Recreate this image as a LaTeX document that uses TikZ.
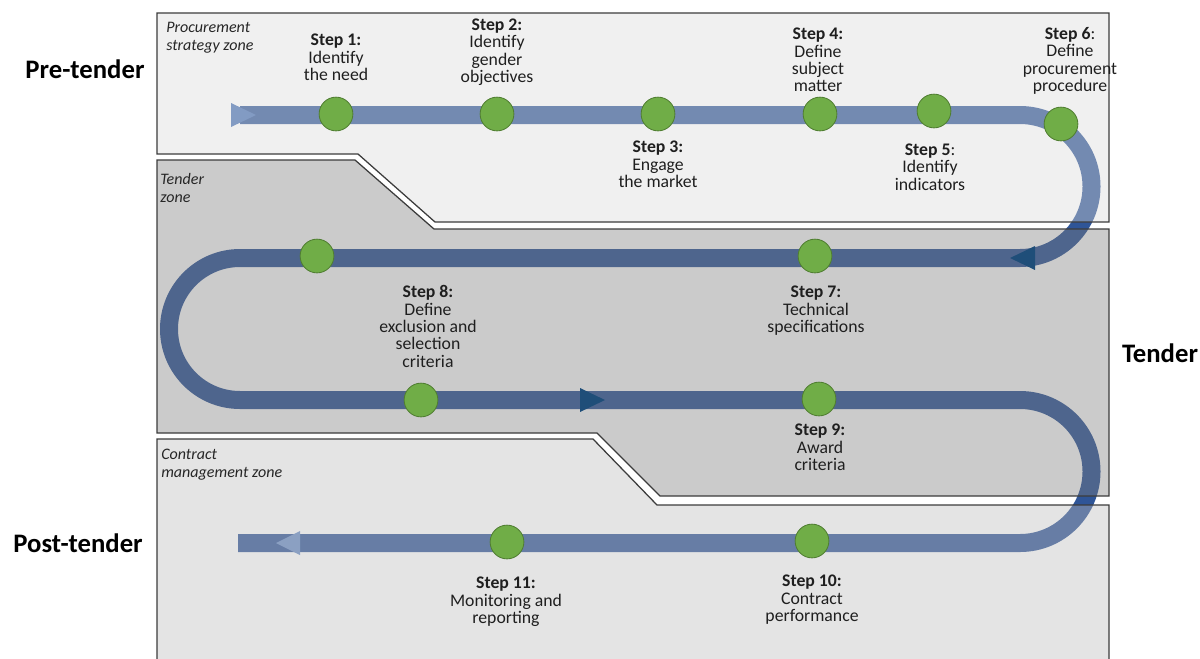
\documentclass[tikz,border=0pt]{standalone}
\usepackage{fontspec}
\setmainfont{Carlito}
\usetikzlibrary{arrows.meta}
\usepackage{xcolor}

\definecolor{trackblue}{RGB}{47,85,151}
\definecolor{headlight}{RGB}{72,113,180}
\definecolor{headpale}{RGB}{108,142,200}
\definecolor{headdark}{RGB}{31,78,121}
\definecolor{dotgreen}{RGB}{112,173,71}
\definecolor{dotrim}{RGB}{80,126,50}
\definecolor{zoneline}{RGB}{60,60,60}

\begin{document}
\begin{tikzpicture}[x=0.025cm,y=-0.025cm,line join=miter,
  zone/.style={draw=zoneline,line width=0.9pt,fill opacity=0.4,draw opacity=1},
  track/.style={draw=trackblue,line width=12.8pt},
  stepdot/.style={circle,fill=dotgreen,draw=dotrim,line width=0.6pt,minimum size=24pt,inner sep=0pt},
  steplabel/.style={align=center,font=\fontsize{12.6}{12.4}\selectfont,text=black!88},
  zonelabel/.style={align=left,anchor=north west,inner sep=0pt,font=\fontsize{11.4}{12.8}\selectfont\itshape,text=black!85},
  phase/.style={font=\fontsize{19}{22}\selectfont\bfseries}]
\useasboundingbox (0,0) rectangle (1200,658);
\begin{scope}
\clip (0,0) rectangle (1200,658);
% the path through the three zones
\coordinate (tstart) at (240,115);
\coordinate (turnA) at (1020,115);
\coordinate (turnB) at (240,258);
\coordinate (turnC) at (1020,400);
\coordinate (tend) at (238,543);
\draw[track] (tstart) -- (turnA) arc(-90:90:71.5) -- (turnB) arc(270:90:71)
  -- (turnC) arc(-90:90:71.5) -- (tend);
\fill[headlight] (231,103) -- (256,115) -- (231,127) -- cycle;
\fill[headpale] (300,531) -- (276,543) -- (300,555) -- cycle;
% zones
\draw[zone,fill={rgb,255:red,218;green,218;blue,218}] (157,13) -- (1109,13) -- (1109,222) -- (435,222) -- (358,154) -- (157,154) -- cycle;
\draw[zone,fill={rgb,255:red,126;green,126;blue,126}] (157,160) -- (355,160) -- (434,229) -- (1109,229) -- (1109,496) -- (660,496) -- (597,433) -- (157,433) -- cycle;
\draw[zone,fill={rgb,255:red,187;green,187;blue,187}] (157,439) -- (593,439) -- (657,505) -- (1109,505) -- (1109,680) -- (157,680) -- cycle;
\end{scope}
\fill[headdark] (1035,246) -- (1010,258) -- (1035,270) -- cycle;
\fill[headdark] (580,388) -- (605,400) -- (580,412) -- cycle;
% zone names
\node[zonelabel] (zpre) at (166,22) {Procurement\\strategy zone};
\node[zonelabel] (ztender) at (160,173) {Tender\\zone};
\node[zonelabel] (zpost) at (161,449) {Contract\\management zone};
\node[phase] (pre) at (85,69) {Pre-tender};
\node[phase] (ten) at (1160,353) {Tender};
\node[phase] (post) at (78,543) {Post-tender};
% steps
\node[stepdot] (d1) at (336,114) {};
\node[stepdot] (d2) at (497,114) {};
\node[stepdot] (d3) at (658,114) {};
\node[stepdot] (d4) at (820,114) {};
\node[stepdot] (d5) at (934,111) {};
\node[stepdot] (d6) at (1061,124) {};
\node[stepdot] (d7) at (815,256) {};
\node[stepdot] (d8a) at (317,256) {};
\node[stepdot] (d8) at (421,400) {};
\node[stepdot] (d9) at (819,399) {};
\node[stepdot] (d10) at (812,541) {};
\node[stepdot] (d11) at (507,542) {};
\node[steplabel] (l1) at (336,57.5) {\textbf{Step 1:}\\Identify\\the need};
\node[steplabel] (l2) at (497,52) {\textbf{Step 2:}\\Identify\\gender\\objectives};
\node[steplabel] (l3) at (658,164.5) {\textbf{Step 3:}\\Engage\\the market};
\node[steplabel] (l4) at (818,60) {\textbf{Step 4:}\\Define\\subject\\matter};
\node[steplabel] (l5) at (930,167) {\textbf{Step 5}:\\Identify\\indicators};
\node[steplabel] (l6) at (1070,61) {\textbf{Step 6}:\\Define\\procurement\\procedure};
\node[steplabel] (l7) at (816,311) {\textbf{Step 7:}\\Technical\\specifications};
\node[steplabel] (l8) at (428,326.5) {\textbf{Step 8:}\\Define\\exclusion and\\selection\\criteria};
\node[steplabel] (l9) at (820,447.5) {\textbf{Step 9:}\\Award\\criteria};
\node[steplabel] (l10) at (812,600) {\textbf{Step 10:}\\Contract\\performance};
\node[steplabel] (l11) at (506,602) {\textbf{Step 11:}\\Monitoring and\\reporting};
\end{tikzpicture}
\end{document}
